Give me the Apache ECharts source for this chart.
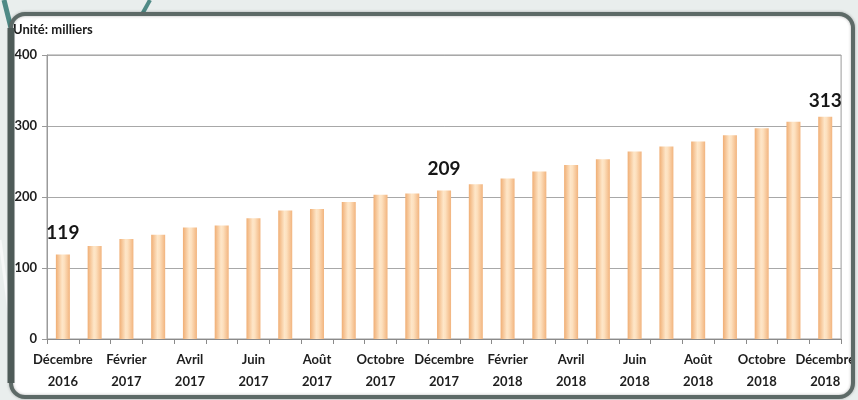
<!DOCTYPE html>
<html>
<head>
<meta charset="utf-8">
<script src="https://cdn.jsdelivr.net/npm/echarts@6/dist/echarts.min.js"></script>
<style>
html,body{margin:0;padding:0;background:#e9eeed;}
#c{width:858px;height:400px;}
</style>
</head>
<body>
<div id="c"></div>
<script>
const categories = [
  "Décembre\n2016","Janvier\n2017","Février\n2017","Mars\n2017","Avril\n2017","Mai\n2017",
  "Juin\n2017","Juillet\n2017","Août\n2017","Septembre\n2017","Octobre\n2017","Novembre\n2017",
  "Décembre\n2017","Janvier\n2018","Février\n2018","Mars\n2018","Avril\n2018","Mai\n2018",
  "Juin\n2018","Juillet\n2018","Août\n2018","Septembre\n2018","Octobre\n2018","Novembre\n2018",
  "Décembre\n2018"
];
const values = [119,131,141,147,157,160,170,181,183,193,203,205,209,218,226,236,245,253,264,271,278,287,297,306,313];
const labelledIndices = [0,12,24];
const yTicks = {min:0, max:400, interval:100};
const unitText = "Unité: milliers";

const chart = echarts.init(document.getElementById('c'), null, {renderer:'canvas'});
const font = 'Lato, "Noto Sans", sans-serif';
const barGradient = new echarts.graphic.LinearGradient(0,0,1,0,[
  {offset:0, color:'#f0ae74'},
  {offset:0.45, color:'#fee6c8'},
  {offset:0.6, color:'#fde0be'},
  {offset:1, color:'#f2b47e'}
]);
const seriesData = values.map((v,i)=>{
  const d = {value:v};
  if (labelledIndices.includes(i)) {
    d.label = {show:true, position:'top', distance: i===24 ? 6 : 12,
      fontSize:19, fontWeight:'bold', color:'#161616', fontFamily:font};
  }
  return d;
});
chart.setOption({
  backgroundColor:'#e9eeed',
  animation:false,
  grid:{left:47, right:13, top:55, bottom:61, show:true, borderColor:'#9a9a9a', borderWidth:1, backgroundColor:'#ffffff'},
  graphic:[
    {type:'line', z:-30, shape:{x1:4,y1:0,x2:14,y2:40}, style:{stroke:'#4f8a86', lineWidth:5}},
    {type:'line', z:-30, shape:{x1:150,y1:0,x2:140,y2:18}, style:{stroke:'#4f8a86', lineWidth:4}},
    {type:'line', z:-30, shape:{x1:0,y1:240,x2:10,y2:320}, style:{stroke:'#f6f8f8', lineWidth:3}},
    {type:'rect', z:-20, shape:{x:11,y:14,width:842,height:383,r:14}, style:{fill:'#ffffff'}},
    {type:'rect', z:100, silent:true, shape:{x:11,y:14,width:842,height:383,r:14},
      style:{fill:null, stroke:'#5d6a67', lineWidth:4, shadowBlur:3, shadowColor:'rgba(0,0,0,0.3)'}},
    {type:'line', z:101, silent:true, shape:{x1:11,y1:28,x2:11,y2:383}, style:{stroke:'#4e5b58', lineWidth:7}},
    {type:'text', z:50, left:13, top:23, style:{text:unitText, font:'bold 13px '+font, fill:'#1a1a1a'}}
  ],
  xAxis:{
    type:'category', data:categories,
    axisLine:{lineStyle:{color:'#8a8a8a'}},
    axisTick:{show:true, interval:0, length:5, lineStyle:{color:'#8a8a8a'}},
    axisLabel:{interval:1, color:'#1e1e1e', fontSize:13, fontWeight:'bold', lineHeight:22, margin:10, fontFamily:font}
  },
  yAxis:{
    type:'value', min:yTicks.min, max:yTicks.max, interval:yTicks.interval,
    axisLine:{show:true, lineStyle:{color:'#9a9a9a'}},
    axisTick:{show:true, length:5, lineStyle:{color:'#9a9a9a'}},
    splitLine:{lineStyle:{color:'#a8a8a8'}},
    axisLabel:{color:'#1e1e1e', fontSize:13, fontWeight:'bold', margin:10, fontFamily:font}
  },
  series:[{
    type:'bar', data:seriesData, barWidth:14,
    itemStyle:{color:barGradient}
  }]
});
</script>
</body>
</html>
